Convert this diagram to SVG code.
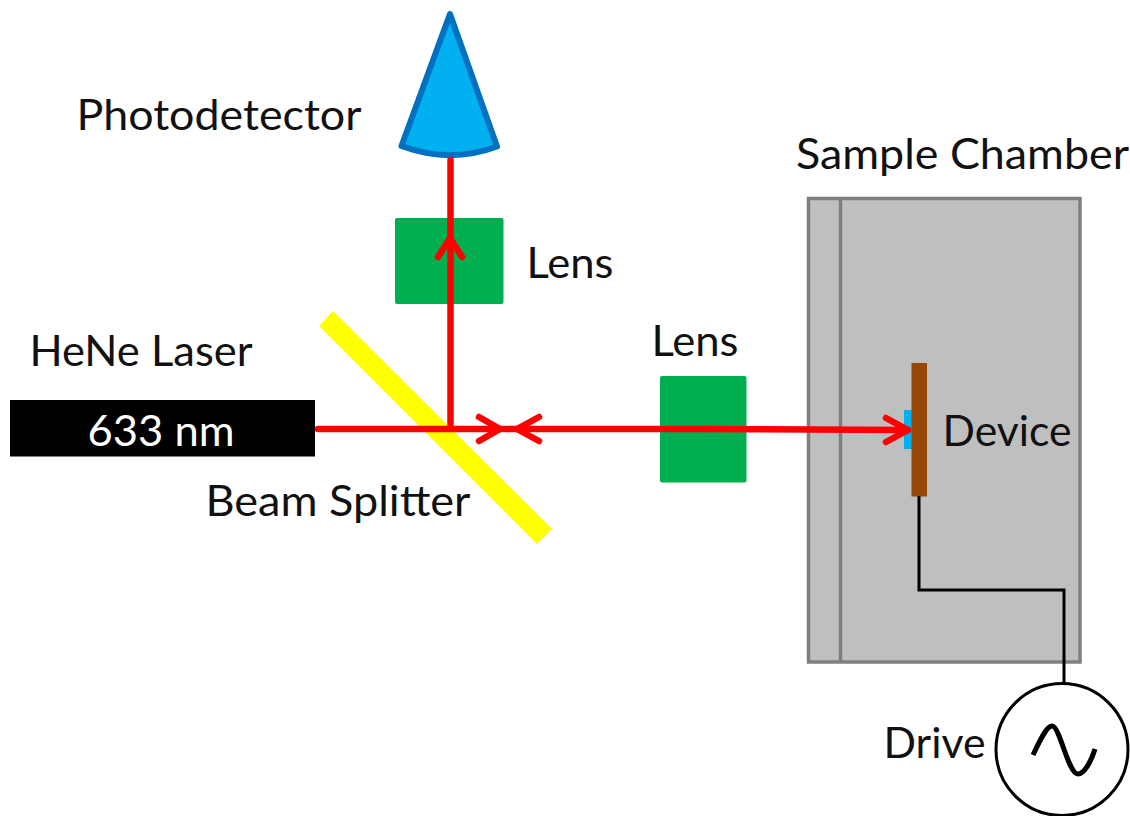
<svg xmlns="http://www.w3.org/2000/svg" width="1130" height="816" viewBox="0 0 1130 816">
<style>
text{font-family:"Lato","Open Sans","Liberation Sans",sans-serif;font-size:42px;fill:#111}
.beam{fill:none;stroke:#f00;stroke-width:6.500;stroke-linecap:round;stroke-linejoin:round}
.wire{fill:none;stroke:#000;stroke-width:3}
.lens{fill:#00b050}
</style>
<rect width="1130" height="816" fill="#fff"/>
<g id="chamber">
<rect x="808.500" y="198.500" width="271.500" height="463.500" fill="#bfbfbf" stroke="#7f7f7f" stroke-width="3.500"/>
<line x1="840.500" y1="198" x2="840.500" y2="662" stroke="#7f7f7f" stroke-width="3.500"/>
<text x="796" y="169" textLength="333" lengthAdjust="spacingAndGlyphs">Sample Chamber</text>
</g>
<g id="splitter"><polygon points="333,311 552,529 537,544 319,326" fill="#ff0"/><text x="205.500" y="516" textLength="265" lengthAdjust="spacingAndGlyphs">Beam Splitter</text></g>
<g id="laser">
<rect x="10" y="400" width="305" height="56.500" fill="#000"/>
<text x="87.500" y="446" textLength="147" lengthAdjust="spacingAndGlyphs" style="fill:#fff">633 nm</text>
<text x="29.500" y="366" textLength="223" lengthAdjust="spacingAndGlyphs">HeNe Laser</text>
</g>
<g id="lens-top"><rect class="lens" x="395" y="218" width="108.500" height="86" rx="2"/><text x="526.500" y="278" textLength="87" lengthAdjust="spacingAndGlyphs">Lens</text></g>
<g id="lens-right"><rect class="lens" x="660" y="376" width="86.500" height="106.500" rx="2"/><text x="651.500" y="356" textLength="87" lengthAdjust="spacingAndGlyphs">Lens</text></g>
<g id="photodetector">
<path d="M450 14 L497 146.500 Q450 164 401.500 146 Z" fill="#00b0f0" stroke="#0070c0" stroke-width="6" stroke-linejoin="round"/>
<text x="76.500" y="130" textLength="285" lengthAdjust="spacingAndGlyphs">Photodetector</text>
</g>
<g id="device">
<rect x="904" y="410" width="8" height="39" fill="#00b0f0"/>
<rect x="911.500" y="363" width="15.500" height="133.500" fill="#974706"/>
<text x="942.500" y="446" textLength="129" lengthAdjust="spacingAndGlyphs">Device</text>
</g>
<g id="connectors">
<path class="beam" d="M318 429 H700 L908 430"/>
<path class="beam" d="M479 417 L500 429 L479 441"/>
<path class="beam" d="M539 417 L517 429 L539 441"/>
<path class="beam" d="M886 418 L908 430 L886 442"/>
<path class="beam" d="M450.500 428 V160"/>
<path class="beam" d="M438 257 L450 238 L462 257"/>
<path class="wire" d="M919 496 V590 H1064 V683"/>
</g>
<g id="drive">
<circle cx="1062" cy="749.500" r="66" fill="#fff" stroke="#000" stroke-width="3"/>
<path d="M1033 755 C1041 738 1047 726 1052 726 C1060 726 1068 774 1078 774 C1084 774 1091 762 1095 749" fill="none" stroke="#000" stroke-width="5"/>
<text x="883.500" y="758" textLength="102" lengthAdjust="spacingAndGlyphs">Drive</text>
</g>
</svg>
